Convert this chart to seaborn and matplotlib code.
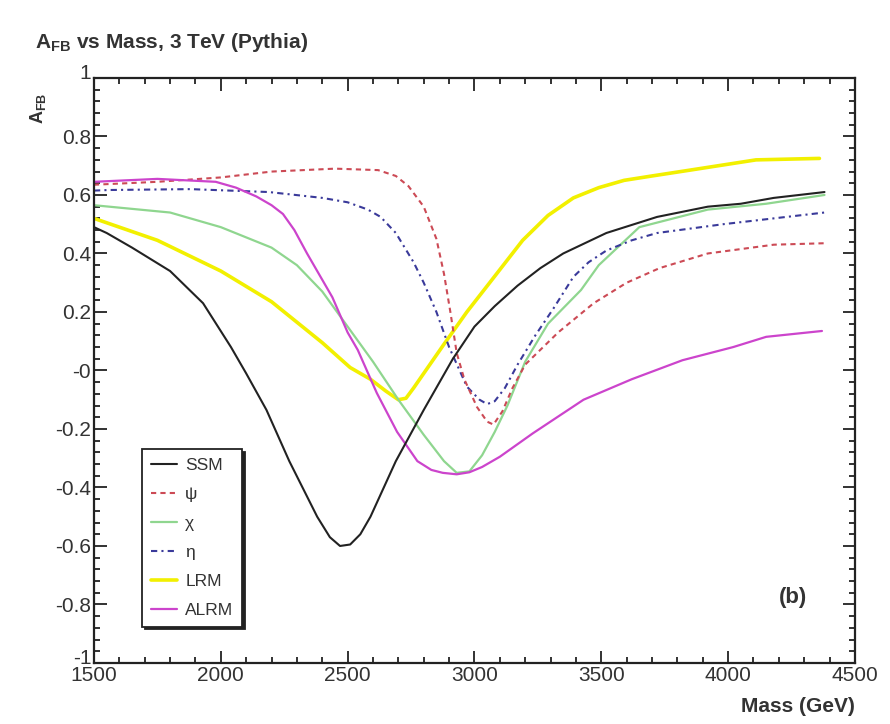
import numpy as np
import pandas as pd
import matplotlib
matplotlib.use("Agg")
import matplotlib.pyplot as plt
import matplotlib.transforms as mtransforms
from matplotlib.lines import Line2D
from matplotlib.ticker import MultipleLocator
import seaborn as sns

# Forward-backward asymmetry vs dilepton mass, 3 TeV Z' models
ssm_mass = [1500, 1550, 1650, 1800, 1930, 2040, 2100, 2180, 2270, 2380, 2430, 2470, 2510,
            2550, 2590, 2690, 2800, 2915, 3000, 3080, 3170, 3260, 3350, 3520, 3720, 3920,
            4050, 4180, 4380]
ssm_afb = [0.49, 0.47, 0.42, 0.34, 0.23, 0.08, -0.01, -0.135, -0.31, -0.50, -0.57, -0.60,
           -0.595, -0.56, -0.50, -0.31, -0.135, 0.04, 0.15, 0.22, 0.29, 0.35, 0.40, 0.47,
           0.525, 0.56, 0.57, 0.59, 0.61]

psi_mass = [1500, 1750, 2000, 2200, 2450, 2620, 2690, 2740, 2800, 2850, 2880, 2905, 2930,
            2960, 3010, 3050, 3075, 3110, 3150, 3200, 3330, 3470, 3600, 3730, 3920, 4180, 4380]
psi_afb = [0.635, 0.645, 0.66, 0.68, 0.69, 0.685, 0.665, 0.63, 0.56, 0.45, 0.33, 0.20, 0.06,
           -0.03, -0.125, -0.175, -0.185, -0.14, -0.06, 0.02, 0.13, 0.23, 0.30, 0.35, 0.40,
           0.43, 0.435]

chi_mass = [1500, 1800, 2000, 2200, 2300, 2400, 2500, 2600, 2700, 2800, 2880, 2930,
            2980, 3030, 3080, 3130, 3200, 3290, 3420, 3490, 3650, 3920, 4150, 4380]
chi_afb = [0.565, 0.54, 0.49, 0.42, 0.36, 0.27, 0.15, 0.03, -0.10, -0.22, -0.31, -0.35,
           -0.345, -0.29, -0.21, -0.12, 0.03, 0.16, 0.275, 0.36, 0.49, 0.55, 0.57, 0.60]

eta_mass = [1500, 1560, 1880, 2190, 2400, 2500, 2580, 2630, 2690, 2760, 2800, 2850, 2900,
            2970, 3020, 3050, 3080, 3120, 3170, 3240, 3310, 3390, 3450, 3520, 3620, 3720,
            3980, 4180, 4380]
eta_afb = [0.615, 0.617, 0.62, 0.61, 0.59, 0.575, 0.55, 0.525, 0.47, 0.37, 0.30, 0.20, 0.08,
           -0.055, -0.10, -0.115, -0.105, -0.06, 0.02, 0.12, 0.21, 0.32, 0.37, 0.41, 0.445,
           0.47, 0.50, 0.52, 0.54]

lrm_mass = [1500, 1750, 2000, 2200, 2400, 2510, 2590, 2650, 2700, 2730, 2760, 2800, 2880,
            2970, 3060, 3190, 3290, 3390, 3490, 3590, 3700, 3850, 4110, 4360]
lrm_afb = [0.52, 0.445, 0.34, 0.235, 0.095, 0.01, -0.03, -0.07, -0.10, -0.095, -0.06, -0.01,
           0.09, 0.20, 0.30, 0.445, 0.53, 0.59, 0.625, 0.65, 0.665, 0.685, 0.72, 0.725]

alrm_mass = [1500, 1750, 1980, 2060, 2140, 2200, 2245, 2290, 2340, 2440, 2500, 2540, 2615,
             2695, 2775, 2830, 2875, 2930, 2980, 3030, 3100, 3230, 3430, 3620, 3820, 4020,
             4150, 4370]
alrm_afb = [0.645, 0.655, 0.645, 0.625, 0.595, 0.565, 0.535, 0.48, 0.40, 0.25, 0.13, 0.07,
            -0.077, -0.21, -0.31, -0.34, -0.35, -0.355, -0.348, -0.33, -0.295, -0.215,
            -0.10, -0.03, 0.035, 0.08, 0.115, 0.135]

model_names = ["SSM", "ψ", "χ", "η", "LRM", "ALRM"]
x_ticks = [1500, 2000, 2500, 3000, 3500, 4000, 4500]
y_ticks = [-1, -0.8, -0.6, -0.4, -0.2, 0, 0.2, 0.4, 0.6, 0.8, 1]
y_tick_labels = ["-1", "-0.8", "-0.6", "-0.4", "-0.2", "-0", "0.2", "0.4", "0.6", "0.8", "1"]

series = {
    "SSM": (ssm_mass, ssm_afb),
    "ψ": (psi_mass, psi_afb),
    "χ": (chi_mass, chi_afb),
    "η": (eta_mass, eta_afb),
    "LRM": (lrm_mass, lrm_afb),
    "ALRM": (alrm_mass, alrm_afb),
}
styles = {
    "SSM": dict(color="#222222", lw=1.5, dashes=""),
    "ψ": dict(color="#cc4a55", lw=1.5, dashes=(2.5, 2)),
    "χ": dict(color="#8fd68f", lw=1.6, dashes=""),
    "η": dict(color="#3a3a9a", lw=1.5, dashes=(3, 2, 1, 2)),
    "LRM": dict(color="#f2f000", lw=2.6, dashes=""),
    "ALRM": dict(color="#cc44cc", lw=1.6, dashes=""),
}

frames = [pd.DataFrame({"mass": m, "afb": a, "model": k}) for k, (m, a) in series.items()]
df = pd.concat(frames, ignore_index=True)

sns.set_theme(style="white")
plt.rcParams["font.family"] = ["Liberation Sans", "DejaVu Sans"]

fig = plt.figure(figsize=(8.9, 7.24), dpi=100)
ax = fig.add_axes([0.1056, 0.0843, 0.855, 0.808])

draw_order = ["LRM", "χ", "η", "ψ", "ALRM", "SSM"]
for name in draw_order:
    st = styles[name]
    sub = df[df["model"] == name]
    sns.lineplot(data=sub, x="mass", y="afb", ax=ax, sort=False, legend=False,
                 estimator=None, color=st["color"], linewidth=st["lw"])
    if st["dashes"]:
        ax.lines[-1].set_dashes(st["dashes"])

ax.set_xlim(1500, 4500)
ax.set_ylim(-1, 1)
ax.set_xticks(x_ticks)
ax.set_xticklabels([str(t) for t in x_ticks])
ax.set_yticks(y_ticks)
ax.set_yticklabels(y_tick_labels)
ax.xaxis.set_minor_locator(MultipleLocator(100))
ax.yaxis.set_minor_locator(MultipleLocator(0.04))
ax.tick_params(which="both", direction="in", top=True, right=True, bottom=True, left=True,
               width=1.3, colors="#222222", labelcolor="#333333")
ax.tick_params(which="major", length=9, labelsize=15, pad=2)
ax.tick_params(which="minor", length=4.5)
ax.set_xlabel("")
ax.set_ylabel("")
for sp in ax.spines.values():
    sp.set_linewidth(1.6)
    sp.set_color("#222222")

# nudge the end labels of the y axis a few points upward
nudge = mtransforms.ScaledTranslation(0, 5 / 72, fig.dpi_scale_trans)
for lab in (ax.get_yticklabels()[0], ax.get_yticklabels()[-1]):
    lab.set_transform(lab.get_transform() + nudge)

# legend with drop shadow
handles = [Line2D([0], [0], color=styles[n]["color"], lw=styles[n]["lw"],
                  dashes=styles[n]["dashes"] if styles[n]["dashes"] else (None, None))
           for n in model_names]
leg = ax.legend(handles, model_names, loc="lower left", bbox_to_anchor=(0.063, 0.062),
                frameon=True, fancybox=False, shadow={"color": "#222222", "alpha": 1},
                fontsize=12.5, handlelength=1.5, handletextpad=0.5, labelspacing=0.8,
                borderpad=0.5, borderaxespad=0)
leg.get_frame().set_edgecolor("#222222")
leg.get_frame().set_linewidth(1.3)
for t in leg.get_texts():
    t.set_color("#333333")

ax.text(4255, -0.775, "(b)", fontsize=16, fontweight="bold", color="#333333",
        ha="center", va="center")

fig.text(35 / 890, 1 - 42 / 724, r"A$_{\mathregular{FB}}$ vs Mass, 3 TeV (Pythia)",
         fontsize=15, fontweight="bold", color="#333333", ha="left", va="center")
fig.text(38 / 890, 1 - 108 / 724, r"A$_{\mathregular{FB}}$", fontsize=13, fontweight="bold",
         color="#333333", rotation=90, ha="center", va="center")
fig.text(855 / 890, 1 - 706 / 724, "Mass (GeV)", fontsize=15, fontweight="bold",
         color="#333333", ha="right", va="center")

fig.savefig("out.png", dpi=100, facecolor="white")
